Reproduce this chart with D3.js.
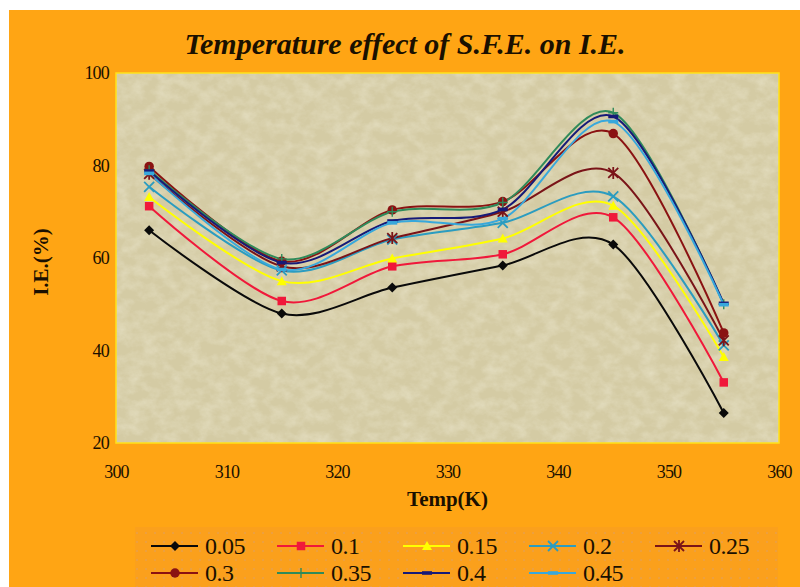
<!DOCTYPE html>
<html>
<head>
<meta charset="utf-8">
<script src="https://cdn.jsdelivr.net/npm/d3@7"></script>
<style>
  body { margin: 0; background: #fff; }
  svg { display: block; }
</style>
</head>
<body>
<svg id="chart" width="800" height="587"></svg>
<script>
const temps = [303, 315, 325, 335, 345, 355]
const seriesNames = ['0.05', '0.1', '0.15', '0.2', '0.25', '0.3', '0.35', '0.4', '0.45']
const s005 = [66.0, 48.0, 53.6, 58.4, 62.9, 26.5]
const s010 = [71.2, 50.7, 58.2, 60.8, 68.8, 33.1]
const s015 = [73.2, 55.0, 59.9, 64.2, 71.3, 38.6]
const s020 = [75.4, 57.3, 64.0, 67.6, 73.3, 41.1]
const s025 = [78.2, 58.2, 64.3, 70.0, 78.4, 42.2]
const s030 = [79.8, 59.3, 70.4, 72.2, 86.9, 43.8]
const s035 = [79.0, 59.8, 70.0, 72.0, 91.4, 50.0]
const s040 = [78.8, 59.0, 68.0, 70.5, 90.6, 50.2]
const s045 = [78.3, 57.5, 67.6, 68.5, 89.5, 49.9]
const xTicks = [300, 310, 320, 330, 340, 350, 360]
const yTicks = [20, 40, 60, 80, 100]

const allValues = [s005, s010, s015, s020, s025, s030, s035, s040, s045]
const colors = ['#0a0a0a', '#f0183a', '#ffff00', '#2b9cc0', '#7a1418', '#8a1212', '#2f8a5a', '#161a78', '#38a8dc']
const markers = ['diamond', 'square', 'triangle', 'x', 'star', 'circle', 'plus', 'dash', 'dash']
const serif = '"Liberation Serif", "Times New Roman", serif'

const series = seriesNames.map((name, i) => ({
  name,
  color: colors[i],
  marker: markers[i],
  values: temps.map((t, j) => ({ t, v: allValues[i][j] }))
}))

const svg = d3.select('#chart')
const defs = svg.append('defs')

// faint mottled paper texture for the plot area
const noise = defs.append('filter').attr('id', 'noise').attr('x', 0).attr('y', 0).attr('width', '100%').attr('height', '100%')
noise.append('feTurbulence').attr('type', 'fractalNoise').attr('baseFrequency', '0.07 0.09').attr('numOctaves', 4).attr('seed', 7)
noise.append('feColorMatrix').attr('type', 'matrix')
  .attr('values', '0 0 0 0 0.95  0 0 0 0 0.93  0 0 0 0 0.80  1.6 0 0 0 -0.55')

const dots = defs.append('pattern').attr('id', 'dots').attr('width', 9).attr('height', 9).attr('patternUnits', 'userSpaceOnUse')
dots.append('rect').attr('width', 9).attr('height', 9).attr('fill', '#fba01c')
dots.append('circle').attr('cx', 2).attr('cy', 2).attr('r', 0.8).attr('fill', '#dca068')

// outer background
svg.append('rect').attr('x', 9).attr('y', 10).attr('width', 791).attr('height', 577).attr('fill', '#ffa514')

const plot = { left: 116, right: 779, top: 73, bottom: 443 }

const x = d3.scaleLinear().domain([300, 360]).range([plot.left, plot.right])
const y = d3.scaleLinear().domain([20, 100]).range([plot.bottom, plot.top])

const pw = plot.right - plot.left
const ph = plot.bottom - plot.top
svg.append('rect').attr('x', plot.left).attr('y', plot.top).attr('width', pw).attr('height', ph)
  .attr('fill', '#d4cba4')
svg.append('rect').attr('x', plot.left).attr('y', plot.top).attr('width', pw).attr('height', ph)
  .attr('filter', 'url(#noise)').attr('opacity', 0.4)
svg.append('rect').attr('x', plot.left).attr('y', plot.top).attr('width', pw).attr('height', ph)
  .attr('fill', 'none').attr('stroke', '#ffe21a').attr('stroke-width', 1.5)

// axes
const xAxis = d3.axisBottom(x).tickValues(xTicks).tickSize(0).tickPadding(22).tickFormat(d3.format('d'))
const yAxis = d3.axisLeft(y).tickValues(yTicks).tickSize(0).tickPadding(7).tickFormat(d3.format('d'))

function styleTicks (g) {
  g.attr('font-family', serif)
  g.select('.domain').remove()
  g.selectAll('.tick text')
    .style('font-family', serif)
    .style('font-size', '18px')
    .attr('fill', '#1a1000')
    .attr('letter-spacing', '-0.8')
}

svg.append('g').attr('transform', `translate(0,${plot.bottom})`).call(xAxis).call(styleTicks)
svg.append('g').attr('transform', `translate(${plot.left},0)`).call(yAxis).call(styleTicks)

// titles
svg.append('text')
  .attr('x', 405).attr('y', 54)
  .attr('text-anchor', 'middle')
  .style('font-family', serif)
  .style('font-style', 'italic').style('font-weight', 'bold')
  .style('font-size', '30px').attr('fill', '#1a1000')
  .text('Temperature effect of S.F.E. on I.E.')

svg.append('text')
  .attr('x', (plot.left + plot.right) / 2).attr('y', 506)
  .attr('text-anchor', 'middle')
  .style('font-family', serif)
  .style('font-weight', 'bold').style('font-size', '21px').attr('fill', '#1a1000')
  .text('Temp(K)')

svg.append('text')
  .attr('transform', 'translate(48,262) rotate(-90)')
  .attr('text-anchor', 'middle')
  .style('font-family', serif)
  .style('font-weight', 'bold').style('font-size', '21px').attr('fill', '#1a1000')
  .text('I.E.(%)')

// marker drawing
function drawMarker (g, type, color, size) {
  const s = size
  if (type === 'diamond') {
    g.append('path').attr('d', `M0,${-s}L${s},0L0,${s}L${-s},0Z`).attr('fill', color)
  } else if (type === 'square') {
    g.append('rect').attr('x', -s * 0.85).attr('y', -s * 0.85).attr('width', s * 1.7).attr('height', s * 1.7).attr('fill', color)
  } else if (type === 'triangle') {
    g.append('path').attr('d', `M0,${-s}L${s},${s * 0.8}L${-s},${s * 0.8}Z`).attr('fill', color)
  } else if (type === 'x') {
    g.append('path').attr('d', `M${-s},${-s}L${s},${s}M${-s},${s}L${s},${-s}`).attr('stroke', color).attr('stroke-width', 1.8)
  } else if (type === 'star') {
    g.append('path').attr('d', `M${-s},${-s}L${s},${s}M${-s},${s}L${s},${-s}M0,${-s * 1.2}L0,${s * 1.2}`).attr('stroke', color).attr('stroke-width', 1.8)
  } else if (type === 'circle') {
    g.append('circle').attr('r', s * 0.95).attr('fill', color)
  } else if (type === 'plus') {
    g.append('path').attr('d', `M${-s},0L${s},0M0,${-s}L0,${s}`).attr('stroke', color).attr('stroke-width', 1.4)
  } else if (type === 'dash') {
    g.append('rect').attr('x', -s).attr('y', -1.8).attr('width', s * 2).attr('height', 3.6).attr('fill', color)
  }
}

const line = d3.line()
  .x(d => x(d.t))
  .y(d => y(d.v))
  .curve(d3.curveCardinal.tension(0.1))

const seriesG = svg.append('g')
series.forEach(s => {
  seriesG.append('path')
    .datum(s.values)
    .attr('d', line)
    .attr('fill', 'none')
    .attr('stroke', s.color)
    .attr('stroke-width', 2)
})
series.forEach(s => {
  s.values.forEach(d => {
    const g = seriesG.append('g').attr('transform', `translate(${x(d.t)},${y(d.v)})`)
    drawMarker(g, s.marker, s.color, 5)
  })
})

// legend
const legend = svg.append('g')
legend.append('rect').attr('x', 135).attr('y', 527).attr('width', 643).attr('height', 60).attr('fill', 'url(#dots)')

const colX = [151, 277, 403, 529, 655]
const rowY = [546, 573]
series.forEach((s, i) => {
  const cx = colX[i % 5]
  const cy = rowY[Math.floor(i / 5)]
  const g = legend.append('g').attr('transform', `translate(${cx},${cy})`)
  g.append('line').attr('x1', 0).attr('x2', 47).attr('y1', 0).attr('y2', 0).attr('stroke', s.color).attr('stroke-width', 2)
  const m = g.append('g').attr('transform', 'translate(24,0)')
  drawMarker(m, s.marker, s.color, 5)
  g.append('text')
    .attr('x', 54).attr('y', 8)
    .style('font-family', serif)
    .style('font-size', '24px').attr('fill', '#1a1000')
    .attr('letter-spacing', '-0.5')
    .text(s.name)
})
</script>
</body>
</html>
